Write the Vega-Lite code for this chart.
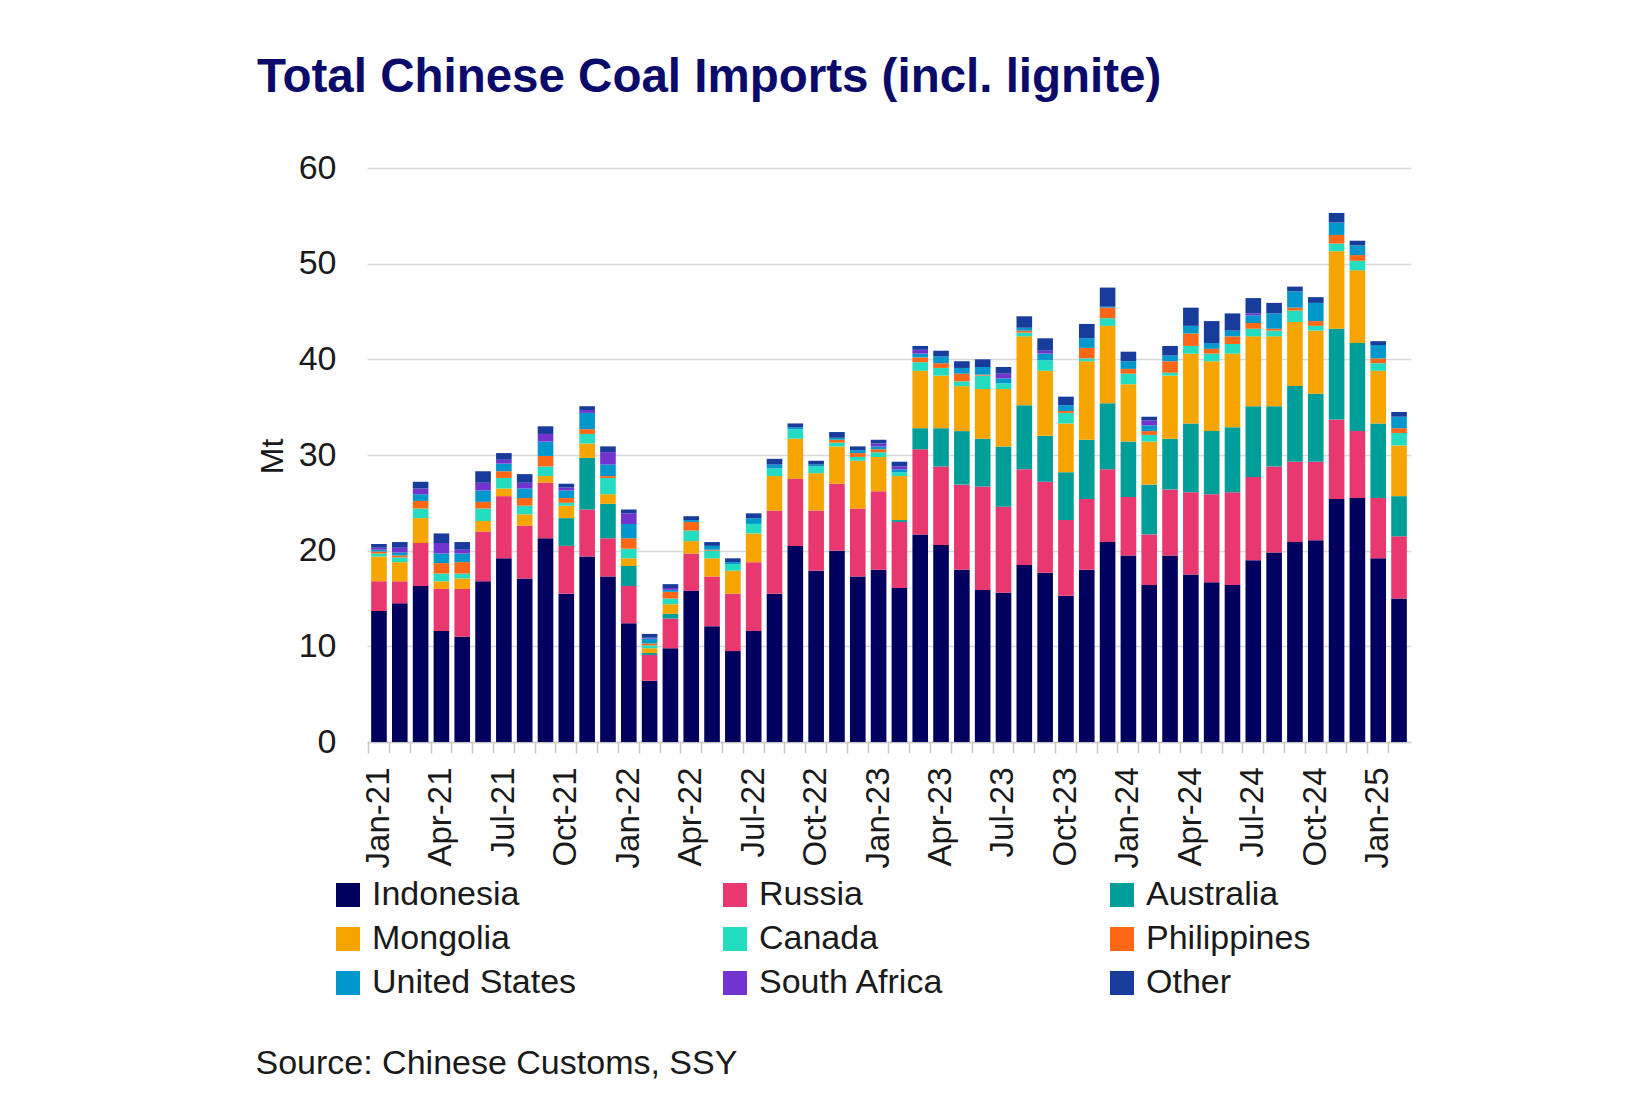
{
  "$schema": "https://vega.github.io/schema/vega-lite/v6.json",
  "autosize": {"type": "none"},
  "padding": {"left": 367, "top": 168, "right": 234, "bottom": 355},
  "width": 1044,
  "height": 574,
  "background": "white",
  "title": {
    "text": "Total Chinese Coal Imports (incl. lignite)",
    "font": "Liberation Sans",
    "fontSize": 47.5,
    "fontWeight": "bold",
    "color": "#0a0a6b",
    "anchor": "start",
    "frame": "group",
    "baseline": "alphabetic",
    "dx": -110,
    "offset": 12
  },
  "datasets": {
    "ranks": [
      {"country": "Indonesia", "rank": 1},
      {"country": "Russia", "rank": 2},
      {"country": "Australia", "rank": 3},
      {"country": "Mongolia", "rank": 4},
      {"country": "Canada", "rank": 5},
      {"country": "Philippines", "rank": 6},
      {"country": "United States", "rank": 7},
      {"country": "South Africa", "rank": 8},
      {"country": "Other", "rank": 9}
    ]
  },
  "data": {
    "values": [
      {"month": "2021-01-01", "Indonesia": 13.7, "Russia": 3.1, "Australia": 0, "Mongolia": 2.6, "Canada": 0.3, "Philippines": 0.2, "United States": 0.2, "South Africa": 0.2, "Other": 0.4},
      {"month": "2021-02-01", "Indonesia": 14.5, "Russia": 2.3, "Australia": 0, "Mongolia": 2.0, "Canada": 0.5, "Philippines": 0.2, "United States": 0.3, "South Africa": 0.5, "Other": 0.6},
      {"month": "2021-03-01", "Indonesia": 16.3, "Russia": 4.5, "Australia": 0, "Mongolia": 2.6, "Canada": 1.0, "Philippines": 0.8, "United States": 0.7, "South Africa": 0.6, "Other": 0.7},
      {"month": "2021-04-01", "Indonesia": 11.6, "Russia": 4.4, "Australia": 0, "Mongolia": 0.8, "Canada": 0.8, "Philippines": 1.1, "United States": 1.0, "South Africa": 1.1, "Other": 1.0},
      {"month": "2021-05-01", "Indonesia": 11.0, "Russia": 5.0, "Australia": 0, "Mongolia": 1.1, "Canada": 0.5, "Philippines": 1.2, "United States": 0.9, "South Africa": 0.4, "Other": 0.8},
      {"month": "2021-06-01", "Indonesia": 16.8, "Russia": 5.2, "Australia": 0, "Mongolia": 1.1, "Canada": 1.3, "Philippines": 0.7, "United States": 1.2, "South Africa": 0.8, "Other": 1.2},
      {"month": "2021-07-01", "Indonesia": 19.2, "Russia": 6.5, "Australia": 0, "Mongolia": 0.8, "Canada": 1.1, "Philippines": 0.7, "United States": 0.8, "South Africa": 0.4, "Other": 0.7},
      {"month": "2021-08-01", "Indonesia": 17.1, "Russia": 5.5, "Australia": 0, "Mongolia": 1.2, "Canada": 0.9, "Philippines": 0.8, "United States": 1.0, "South Africa": 0.6, "Other": 0.9},
      {"month": "2021-09-01", "Indonesia": 21.3, "Russia": 5.8, "Australia": 0, "Mongolia": 0.7, "Canada": 1.0, "Philippines": 1.1, "United States": 1.5, "South Africa": 0.8, "Other": 0.8},
      {"month": "2021-10-01", "Indonesia": 15.5, "Russia": 5.0, "Australia": 2.9, "Mongolia": 1.3, "Canada": 0.3, "Philippines": 0.5, "United States": 0.8, "South Africa": 0.3, "Other": 0.4},
      {"month": "2021-11-01", "Indonesia": 19.4, "Russia": 4.9, "Australia": 5.4, "Mongolia": 1.5, "Canada": 1.0, "Philippines": 0.5, "United States": 1.7, "South Africa": 0.3, "Other": 0.4},
      {"month": "2021-12-01", "Indonesia": 17.3, "Russia": 4.0, "Australia": 3.6, "Mongolia": 1.0, "Canada": 1.7, "Philippines": 0.2, "United States": 1.2, "South Africa": 1.3, "Other": 0.6},
      {"month": "2022-01-01", "Indonesia": 12.4, "Russia": 3.9, "Australia": 2.1, "Mongolia": 0.8, "Canada": 1.0, "Philippines": 1.1, "United States": 1.5, "South Africa": 1.1, "Other": 0.4},
      {"month": "2022-02-01", "Indonesia": 6.4, "Russia": 2.7, "Australia": 0.2, "Mongolia": 0.5, "Canada": 0.3, "Philippines": 0.2, "United States": 0.5, "South Africa": 0.1, "Other": 0.4},
      {"month": "2022-03-01", "Indonesia": 9.8, "Russia": 3.1, "Australia": 0.5, "Mongolia": 1.0, "Canada": 0.6, "Philippines": 0.7, "United States": 0.2, "South Africa": 0.2, "Other": 0.4},
      {"month": "2022-04-01", "Indonesia": 15.8, "Russia": 3.9, "Australia": 0, "Mongolia": 1.3, "Canada": 1.1, "Philippines": 0.9, "United States": 0.2, "South Africa": 0, "Other": 0.4},
      {"month": "2022-05-01", "Indonesia": 12.1, "Russia": 5.2, "Australia": 0, "Mongolia": 1.9, "Canada": 0.8, "Philippines": 0.1, "United States": 0.4, "South Africa": 0, "Other": 0.4},
      {"month": "2022-06-01", "Indonesia": 9.5, "Russia": 6.0, "Australia": 0, "Mongolia": 2.4, "Canada": 0.7, "Philippines": 0, "United States": 0.2, "South Africa": 0, "Other": 0.4},
      {"month": "2022-07-01", "Indonesia": 11.6, "Russia": 7.2, "Australia": 0, "Mongolia": 3.0, "Canada": 1.0, "Philippines": 0, "United States": 0.6, "South Africa": 0, "Other": 0.5},
      {"month": "2022-08-01", "Indonesia": 15.5, "Russia": 8.7, "Australia": 0, "Mongolia": 3.6, "Canada": 0.8, "Philippines": 0, "United States": 0.4, "South Africa": 0, "Other": 0.6},
      {"month": "2022-09-01", "Indonesia": 20.5, "Russia": 7.0, "Australia": 0, "Mongolia": 4.2, "Canada": 1.0, "Philippines": 0, "United States": 0.2, "South Africa": 0, "Other": 0.4},
      {"month": "2022-10-01", "Indonesia": 17.9, "Russia": 6.3, "Australia": 0, "Mongolia": 3.9, "Canada": 0.7, "Philippines": 0, "United States": 0.2, "South Africa": 0, "Other": 0.4},
      {"month": "2022-11-01", "Indonesia": 20.0, "Russia": 7.0, "Australia": 0, "Mongolia": 3.9, "Canada": 0.4, "Philippines": 0.3, "United States": 0.2, "South Africa": 0, "Other": 0.6},
      {"month": "2022-12-01", "Indonesia": 17.3, "Russia": 7.1, "Australia": 0, "Mongolia": 5.0, "Canada": 0.4, "Philippines": 0.4, "United States": 0.3, "South Africa": 0, "Other": 0.4},
      {"month": "2023-01-01", "Indonesia": 18.0, "Russia": 8.2, "Australia": 0, "Mongolia": 3.6, "Canada": 0.5, "Philippines": 0.3, "United States": 0.3, "South Africa": 0.3, "Other": 0.4},
      {"month": "2023-02-01", "Indonesia": 16.1, "Russia": 6.9, "Australia": 0.2, "Mongolia": 4.6, "Canada": 0.4, "Philippines": 0, "United States": 0.3, "South Africa": 0.3, "Other": 0.5},
      {"month": "2023-03-01", "Indonesia": 21.7, "Russia": 8.9, "Australia": 2.2, "Mongolia": 6.0, "Canada": 0.9, "Philippines": 0.5, "United States": 0.4, "South Africa": 0.4, "Other": 0.4},
      {"month": "2023-04-01", "Indonesia": 20.6, "Russia": 8.2, "Australia": 4.0, "Mongolia": 5.5, "Canada": 0.8, "Philippines": 0.5, "United States": 0.7, "South Africa": 0, "Other": 0.6},
      {"month": "2023-05-01", "Indonesia": 18.0, "Russia": 8.9, "Australia": 5.6, "Mongolia": 4.7, "Canada": 0.5, "Philippines": 0.8, "United States": 0.6, "South Africa": 0, "Other": 0.7},
      {"month": "2023-06-01", "Indonesia": 15.9, "Russia": 10.8, "Australia": 5.0, "Mongolia": 5.2, "Canada": 1.4, "Philippines": 0.1, "United States": 0.8, "South Africa": 0, "Other": 0.8},
      {"month": "2023-07-01", "Indonesia": 15.6, "Russia": 9.0, "Australia": 6.3, "Mongolia": 6.0, "Canada": 0.6, "Philippines": 0, "United States": 0.5, "South Africa": 0.5, "Other": 0.7},
      {"month": "2023-08-01", "Indonesia": 18.5, "Russia": 10.0, "Australia": 6.7, "Mongolia": 7.2, "Canada": 0.4, "Philippines": 0.2, "United States": 0.3, "South Africa": 0, "Other": 1.2},
      {"month": "2023-09-01", "Indonesia": 17.7, "Russia": 9.5, "Australia": 4.8, "Mongolia": 6.8, "Canada": 1.1, "Philippines": 0, "United States": 0.7, "South Africa": 0.3, "Other": 1.3},
      {"month": "2023-10-01", "Indonesia": 15.3, "Russia": 7.9, "Australia": 5.0, "Mongolia": 5.1, "Canada": 1.1, "Philippines": 0.2, "United States": 0.6, "South Africa": 0, "Other": 0.9},
      {"month": "2023-11-01", "Indonesia": 18.0, "Russia": 7.4, "Australia": 6.2, "Mongolia": 8.2, "Canada": 0.3, "Philippines": 1.1, "United States": 1.0, "South Africa": 0, "Other": 1.5},
      {"month": "2023-12-01", "Indonesia": 20.9, "Russia": 7.6, "Australia": 6.9, "Mongolia": 8.1, "Canada": 0.8, "Philippines": 1.1, "United States": 0.1, "South Africa": 0, "Other": 2.0},
      {"month": "2024-01-01", "Indonesia": 19.5, "Russia": 6.1, "Australia": 5.8, "Mongolia": 6.0, "Canada": 1.1, "Philippines": 0.5, "United States": 0.8, "South Africa": 0, "Other": 1.0},
      {"month": "2024-02-01", "Indonesia": 16.4, "Russia": 5.3, "Australia": 5.2, "Mongolia": 4.5, "Canada": 0.7, "Philippines": 0.4, "United States": 0.6, "South Africa": 0.5, "Other": 0.4},
      {"month": "2024-03-01", "Indonesia": 19.5, "Russia": 6.9, "Australia": 5.3, "Mongolia": 6.6, "Canada": 0.3, "Philippines": 1.2, "United States": 0.6, "South Africa": 0, "Other": 1.0},
      {"month": "2024-04-01", "Indonesia": 17.5, "Russia": 8.6, "Australia": 7.2, "Mongolia": 7.3, "Canada": 0.8, "Philippines": 1.3, "United States": 0.8, "South Africa": 0, "Other": 1.9},
      {"month": "2024-05-01", "Indonesia": 16.7, "Russia": 9.2, "Australia": 6.6, "Mongolia": 7.3, "Canada": 0.8, "Philippines": 0.5, "United States": 0.6, "South Africa": 0, "Other": 2.3},
      {"month": "2024-06-01", "Indonesia": 16.4, "Russia": 9.7, "Australia": 6.8, "Mongolia": 7.7, "Canada": 1.0, "Philippines": 0.8, "United States": 0.6, "South Africa": 0, "Other": 1.8},
      {"month": "2024-07-01", "Indonesia": 19.0, "Russia": 8.7, "Australia": 7.4, "Mongolia": 7.3, "Canada": 0.8, "Philippines": 0.6, "United States": 0.8, "South Africa": 0.2, "Other": 1.6},
      {"month": "2024-08-01", "Indonesia": 19.8, "Russia": 9.0, "Australia": 6.3, "Mongolia": 7.3, "Canada": 0.6, "Philippines": 0.2, "United States": 1.6, "South Africa": 0, "Other": 1.1},
      {"month": "2024-09-01", "Indonesia": 20.9, "Russia": 8.4, "Australia": 7.9, "Mongolia": 6.7, "Canada": 1.2, "Philippines": 0.3, "United States": 1.7, "South Africa": 0, "Other": 0.5},
      {"month": "2024-10-01", "Indonesia": 21.1, "Russia": 8.2, "Australia": 7.1, "Mongolia": 6.6, "Canada": 0.5, "Philippines": 0.5, "United States": 1.9, "South Africa": 0, "Other": 0.6},
      {"month": "2024-11-01", "Indonesia": 25.4, "Russia": 8.3, "Australia": 9.5, "Mongolia": 8.1, "Canada": 0.8, "Philippines": 0.9, "United States": 1.3, "South Africa": 0, "Other": 1.0},
      {"month": "2024-12-01", "Indonesia": 25.5, "Russia": 7.0, "Australia": 9.2, "Mongolia": 7.6, "Canada": 1.0, "Philippines": 0.6, "United States": 1.0, "South Africa": 0, "Other": 0.5},
      {"month": "2025-01-01", "Indonesia": 19.2, "Russia": 6.3, "Australia": 7.8, "Mongolia": 5.5, "Canada": 0.8, "Philippines": 0.5, "United States": 1.4, "South Africa": 0, "Other": 0.4},
      {"month": "2025-02-01", "Indonesia": 15.0, "Russia": 6.5, "Australia": 4.2, "Mongolia": 5.3, "Canada": 1.3, "Philippines": 0.5, "United States": 1.2, "South Africa": 0, "Other": 0.5}
    ]
  },
  "transform": [
    {"fold": ["Indonesia", "Russia", "Australia", "Mongolia", "Canada", "Philippines", "United States", "South Africa", "Other"], "as": ["country", "mt"]},
    {"lookup": "country", "from": {"data": {"name": "ranks"}, "key": "country", "fields": ["rank"]}}
  ],
  "mark": {"type": "bar"},
  "encoding": {
    "x": {
      "field": "month",
      "timeUnit": "utcyearmonth",
      "type": "ordinal",
      "scale": {"paddingInner": 0.25, "paddingOuter": 0.2},
      "axis": {
        "title": "Source: Chinese Customs, SSY",
        "titleFontSize": 34,
        "titleFontWeight": "normal",
        "titleColor": "#1a1a1a",
        "titleAnchor": "start",
        "titleAlign": "left",
        "titleBaseline": "alphabetic",
        "titleX": -112,
        "titleY": 331,
        "labelAngle": -90,
        "labelAlign": "right",
        "labelBaseline": "middle",
        "labelFontSize": 33,
        "labelColor": "#1a1a1a",
        "labelPadding": 14,
        "labelOverlap": false,
        "labelExpr": "utcmonth(datum.value) % 3 == 0 ? utcFormat(datum.value, '%b-%y') : ''",
        "bandPosition": -0.167,
        "tickSize": 11,
        "tickColor": "#c8c8c8",
        "tickWidth": 1.5,
        "domainColor": "#c8c8c8",
        "domainWidth": 1.5,
        "grid": false
      }
    },
    "y": {
      "field": "mt",
      "type": "quantitative",
      "stack": "zero",
      "scale": {"domain": [0, 60], "nice": false},
      "axis": {
        "title": "Mt",
        "titleFontSize": 32,
        "titleFontWeight": "normal",
        "titleColor": "#1a1a1a",
        "titleAngle": -90,
        "titleAlign": "center",
        "titleBaseline": "middle",
        "titleX": -95,
        "titleY": 288,
        "values": [0, 10, 20, 30, 40, 50, 60],
        "ticks": false,
        "domain": false,
        "labelFontSize": 34,
        "labelColor": "#1a1a1a",
        "labelPadding": 31,
        "gridColor": "#d9d9d9",
        "gridWidth": 1.5
      }
    },
    "color": {
      "field": "country",
      "type": "nominal",
      "scale": {
        "domain": ["Indonesia", "Russia", "Australia", "Mongolia", "Canada", "Philippines", "United States", "South Africa", "Other"],
        "range": ["#00005f", "#e9386f", "#009e98", "#f6a500", "#24dcc0", "#fe6715", "#0098cc", "#7233cf", "#173c9c"]
      },
      "legend": {
        "orient": "none",
        "legendX": -36,
        "legendY": 710,
        "direction": "horizontal",
        "columns": 3,
        "title": null,
        "symbolType": "square",
        "symbolSize": 576,
        "symbolStrokeWidth": 0,
        "labelFontSize": 34,
        "labelColor": "#1a1a1a",
        "labelOffset": 7,
        "labelLimit": 400,
        "columnPadding": 141,
        "rowPadding": 10,
        "gridAlign": "all"
      }
    },
    "order": {"field": "rank", "type": "quantitative"}
  },
  "config": {
    "view": {"stroke": null},
    "font": "Liberation Sans"
  }
}
